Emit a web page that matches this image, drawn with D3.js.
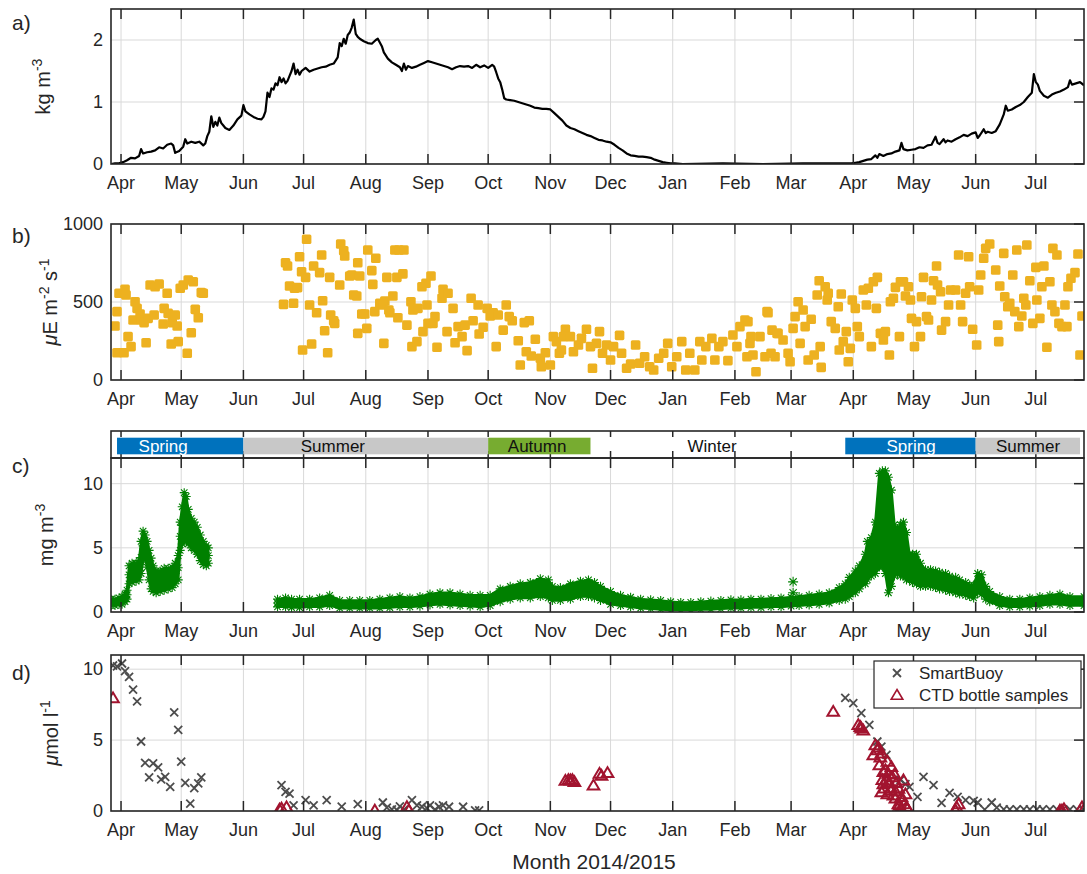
<!DOCTYPE html>
<html>
<head>
<meta charset="utf-8">
<script src="https://cdn.jsdelivr.net/npm/d3@7"></script>
<style>
  body { margin: 0; background: #fff; }
  text { font-family: "Liberation Sans", Arial, Helvetica, sans-serif; fill: #262626; }
</style>
</head>
<body>
<svg id="chart" width="1087" height="874"></svg>
<script>
// ---- data (x values are days since 1 Apr 2014) ----

// a) biomass, kg m-3
const biomassDay = [
  -5,-3,-1,1,3,5,7,9,10,11,
  13,15,17,19,21,23,25,26,27,29,
  31,32,33,35,37,39,41,42,43,44,
  45,46,47,48,49,50,51,52,54,56,
  58,60,61,62,64,66,68,70,71,72,
  73,74,75,76,77,78,79,80,81,82,
  83,84,85,86,87,88,89,90,92,94,
  96,98,100,102,104,106,108,109,110,111,
  112,113,114,115,116,117,118,119,120,121,
  123,125,127,128,130,131,133,135,137,139,
  140,141,142,143,145,147,149,151,153,155,
  157,159,161,163,165,167,169,171,173,175,
  177,179,181,183,185,186,187,188,189,190,
  191,192,194,196,198,200,202,204,206,208,
  210,212,214,216,218,220,222,224,226,228,
  230,232,234,236,238,240,242,244,246,248,
  250,252,254,256,258,260,262,264,266,268,
  270,272,274,276,280,300,320,340,364,366,
  368,370,372,374,376,377,378,380,382,384,
  386,388,389,390,392,394,396,398,400,402,
  404,406,407,408,410,411,412,414,416,418,
  420,422,424,426,427,428,430,431,432,434,
  436,438,440,441,442,444,446,448,450,452,
  454,455,456,457,458,460,462,464,466,468,
  470,472,473,474,476,478,480
];
const biomassValue = [
  0.00,0.01,0.01,0.03,0.06,0.10,0.09,0.13,0.24,0.17,
  0.19,0.20,0.22,0.27,0.25,0.31,0.33,0.30,0.18,0.21,
  0.28,0.40,0.33,0.36,0.34,0.36,0.30,0.33,0.45,0.52,
  0.77,0.60,0.68,0.62,0.75,0.66,0.62,0.58,0.55,0.62,
  0.72,0.78,0.95,0.85,0.80,0.76,0.73,0.72,0.76,0.85,
  1.15,1.08,1.22,1.20,1.30,1.27,1.40,1.32,1.38,1.30,
  1.34,1.42,1.50,1.62,1.45,1.52,1.44,1.50,1.55,1.49,
  1.52,1.54,1.56,1.57,1.60,1.62,1.72,1.95,1.90,2.02,
  1.94,2.08,2.12,2.20,2.33,2.10,2.05,2.02,2.00,1.98,
  1.95,1.94,2.00,2.02,1.90,1.80,1.70,1.64,1.60,1.56,
  1.50,1.62,1.52,1.58,1.55,1.57,1.60,1.63,1.66,1.64,
  1.62,1.60,1.58,1.56,1.53,1.56,1.58,1.57,1.58,1.55,
  1.60,1.56,1.59,1.55,1.60,1.57,1.48,1.38,1.32,1.20,
  1.06,1.04,1.03,1.02,1.00,0.98,0.96,0.94,0.91,0.90,
  0.89,0.89,0.88,0.82,0.76,0.70,0.62,0.58,0.56,0.53,
  0.50,0.47,0.45,0.42,0.39,0.38,0.36,0.35,0.31,0.26,
  0.22,0.17,0.14,0.13,0.12,0.12,0.11,0.10,0.07,0.05,
  0.03,0.02,0.01,0.01,0.00,0.01,0.00,0.01,0.01,0.02,
  0.03,0.05,0.07,0.08,0.14,0.10,0.16,0.13,0.16,0.17,
  0.20,0.22,0.34,0.24,0.22,0.23,0.24,0.27,0.26,0.30,
  0.31,0.44,0.34,0.32,0.40,0.35,0.38,0.36,0.40,0.43,
  0.47,0.45,0.49,0.51,0.42,0.46,0.56,0.50,0.52,0.50,
  0.53,0.64,0.80,0.94,0.86,0.88,0.92,0.95,1.00,1.08,
  1.15,1.45,1.32,1.28,1.18,1.10,1.07,1.12,1.15,1.17,
  1.20,1.24,1.35,1.28,1.30,1.32,1.27
];

// b) daily PAR, uE m-2 s-1
const parDay = [
  -3,-2,1.5,-1,-2,2,2.5,3.5,5,6,
  7,8,9.5,10,11.5,12.5,13.5,16.5,14.5,17,
  19,21,21.5,23,23.5,25,25.5,27,28,28.5,
  29.5,31,33,33.5,35,36,37,38.5,40,41,
  81,82,83,84,86,86.5,88,89,90,90.5,
  92.5,92,94,95,96,97.5,99,100,100.5,101.5,
  103,104,104.5,106,106.5,109,109.5,111,111.5,114,
  115,116,117.5,118,119,118,120,121.5,122.5,123,
  125,125.5,127,126.5,129,131,131.5,132.5,134,135.5,
  136.5,137.5,138.5,141,140.5,130.5,133.5,138,142.5,144.5,
  145.5,148,145,147.5,150,152,154.5,150.5,153,152.5,
  156.5,157.5,155.5,160.5,160,163,162.5,165.5,166.5,168,
  170,172.5,171.5,174.5,175.5,178,178.5,180.5,182.5,184,
  185.5,187,188,190.5,192,193.5,195,198,199,201,
  203.5,202,204.5,206.5,209,211.5,209.5,214,215.5,217,
  219.5,221.5,220.5,218.5,224,225.5,228,229.5,232,234,
  235,237,238.5,240,242,244,245.5,248.5,249.5,252,
  254,256.5,258.5,261,263.5,265.5,268,270.5,272.5,274.5,
  277,279.5,281.5,283.5,286,288.5,289.5,291.5,294.5,296,
  298,300,302.5,305,307,308.5,311,312,314,316.5,
  318.5,321,322,324.5,326,327.5,312.5,315,313.5,322.5,
  324,327,330,332.5,333.5,335,336,337.5,338.5,340,
  341,342.5,344,345.5,347,348,348.5,349,351,352,
  352.5,354,356,357.5,358,359,360,361.5,362.5,363.5,
  364.5,366,367,368,370,371.5,372.5,374,375,376.5,
  377,378.5,380,381,383,383.5,385,386,388,388.5,
  390,391,392.5,393.5,394,395.5,396.5,398.5,399,400,
  401.5,402.5,404,405,406.5,407,408.5,409,411,412.5,
  413.5,416,417.5,418.5,419.5,421,422.5,423,424.5,426.5,
  427.5,428.5,430,431,433,436,437,437.5,438,440,
  440.5,442,443,444.5,445.5,446.5,447.5,449,450,451,
  451.5,453,454.5,456,456.5,458,459,460,461.5,463,
  464,464.5,465.5,466.5,467.5,469,470.5,471.5,472,473.5,
  475.5,477,479,478
];
const parValue = [
  346,175,175,556,438,581,545,278,214,385,
  502,459,423,385,368,239,395,417,609,598,
  615,359,459,556,427,231,368,417,346,246,
  588,609,171,641,303,630,453,399,560,556,
  485,752,731,603,492,588,592,790,694,192,
  902,658,481,231,731,431,688,801,508,316,
  175,658,417,380,363,609,872,829,795,667,
  673,545,538,752,667,299,423,423,331,833,
  701,613,780,438,492,235,506,658,431,538,
  833,658,833,833,680,481,449,399,352,502,
  449,459,214,246,598,620,667,310,363,481,
  406,210,363,581,524,556,310,459,239,342,
  278,188,352,524,380,481,295,338,459,410,
  431,214,417,320,481,406,380,252,96,368,
  380,181,154,261,139,175,85,96,278,246,
  192,325,278,171,278,181,224,267,325,214,
  75,235,310,171,224,128,214,286,171,75,
  103,224,107,149,85,64,139,171,235,85,
  149,246,64,171,64,246,128,214,267,128,
  214,246,124,288,214,342,385,149,278,53,
  278,149,438,320,149,299,374,160,235,431,
  171,299,256,171,117,331,406,502,235,449,
  342,128,389,160,545,636,214,81,598,513,
  556,374,331,470,192,551,246,310,117,203,
  513,459,342,278,577,481,588,214,630,459,
  658,299,256,310,160,502,524,594,278,630,
  630,538,598,513,395,214,374,278,534,658,
  406,385,513,636,731,609,566,320,374,481,
  577,577,801,481,374,556,790,598,325,224,
  577,673,780,844,872,705,352,246,603,812,
  534,470,492,673,438,833,342,410,524,481,
  865,636,363,722,513,395,598,731,210,630,
  481,844,438,801,363,342,481,342,598,652,
  688,808,410,160
];

// c) chlorophyll, mg m-3 (spread of the high-frequency record: low / high)
const chlDay = [
  -5,-3,-1,0.5,2,3,4,5.5,7.5,9,
  10,11,12,13,14,15,16,17.5,19.5,21.5,
  23.5,25.5,27,28.5,29.5,30.5,31.5,32.5,33.5,35,
  36.5,38,39.5,41,42.5,43.5,
  78,82,85,89,94,99,104,109,114,119,
  124,129,134,139,144,149,154,159,164,169,
  174,179,184,189,194,199,204,209,213,215,
  219,224,229,233,236,239,244,249,254,259,
  264,269,274,279,284,289,294,299,304,309,
  314,319,324,329,334,338,343,348,353,358,
  361,363,366,368,371,372,374,376,378,379.5,
  381,382.5,384,385.5,387,388.5,390,391.5,393,394.5,
  396.5,398.5,401,403.5,406,408,411,413,416,418,
  421,423,425,427,429,431,433,438,443,448,
  453,458,463,468,473,480
];
const chlLow = [
  0.5,0.5,0.6,0.6,0.8,1.0,2.2,2.3,2.4,2.5,
  3.0,4.0,4.3,3.5,2.5,1.8,1.6,1.5,1.6,1.7,
  1.8,1.9,2.2,2.5,4.8,5.3,5.5,5.5,5.3,5.0,
  4.8,4.5,4.0,3.7,3.6,3.8,
  0.4,0.4,0.35,0.35,0.4,0.4,0.5,0.3,0.3,0.3,
  0.3,0.3,0.35,0.4,0.4,0.45,0.55,0.6,0.55,0.5,
  0.45,0.4,0.5,0.8,1.0,1.1,1.1,1.2,1.1,0.9,
  0.9,1.0,1.2,1.2,1.1,0.9,0.6,0.5,0.4,0.3,
  0.25,0.2,0.15,0.15,0.15,0.2,0.2,0.25,0.3,0.3,
  0.35,0.35,0.4,0.4,0.45,0.5,0.55,0.6,0.7,0.9,
  1.0,1.2,1.5,1.8,2.2,2.5,2.8,3.0,3.5,3.5,
  3.0,1.5,2.0,2.8,3.0,2.8,2.8,2.5,2.5,2.3,
  2.2,2.0,2.0,2.0,1.9,1.8,1.7,1.6,1.5,1.4,
  1.3,1.2,1.1,1.5,1.4,1.0,0.8,0.5,0.4,0.4,
  0.45,0.5,0.6,0.6,0.5,0.5
];
const chlHigh = [
  1.0,1.0,1.1,1.2,1.4,1.7,3.6,3.8,3.8,4.0,
  5.5,6.3,6.0,5.5,4.8,4.2,3.6,3.2,3.2,3.4,
  3.4,3.5,3.8,4.4,7.0,8.2,9.3,9.0,8.0,7.3,
  7.0,6.6,6.0,5.5,5.2,5.0,
  1.0,1.1,1.0,1.0,1.0,1.1,1.3,0.9,0.9,0.9,
  0.9,1.0,1.1,1.2,1.1,1.2,1.4,1.5,1.5,1.4,
  1.3,1.3,1.3,1.8,2.0,2.2,2.3,2.6,2.5,2.0,
  1.9,2.2,2.4,2.5,2.3,2.0,1.6,1.3,1.15,1.0,
  0.95,0.9,0.8,0.75,0.75,0.8,0.85,0.9,0.95,0.95,
  1.0,1.0,1.05,1.1,1.15,1.2,1.3,1.4,1.5,1.9,
  2.2,2.7,3.2,3.6,4.5,5.5,5.8,7.0,10.8,11.0,
  11.0,10.5,9.5,6.8,6.5,6.8,7.0,6.2,4.5,4.5,
  4.5,3.8,3.3,3.3,3.2,3.1,3.0,2.8,2.7,2.5,
  2.3,2.1,2.1,3.0,2.9,2.0,1.6,1.2,1.0,1.0,
  1.1,1.2,1.3,1.4,1.2,1.2
];
const chlSpikeDay = [335, 335];
const chlSpikeValue = [2.35, 1.5];

// seasons shown above panel c
const seasonNames = ["Spring", "Summer", "Autumn", "Winter", "Spring", "Summer"];
const seasonStart = [-2, 61, 183, 234, 361, 426];
const seasonEnd = [61, 183, 234, 361, 426, 478];
const seasonLabelDay = [21, 105.6, 207.4, 294.6, 393.8, 452.1];

// d) nitrate, umol l-1
const buoyDay = [
  -4,-2,0.5,2,4,6,8,10,12,14,
  16,18.5,20,22,24.5,26.5,28.5,30,32,34.5,
  36.5,38.5,40,80,82,84,86,92,96,102.5,
  110,118,130.5,132.5,135,137.5,139,141,145,147.5,
  150,152.5,154,156.5,158.5,160.5,163.5,170.5,176.5,178.5,
  361,365,369,373,377,379,381.5,388.5,391,393,
  397,400,405,409,413,417,421,425,427,430.5,
  434,436.5,440,443,446.5,450,453,456.5,459.5,463,
  466.5,469.5,473,476.5,479.5
];
const buoyValue = [
  10.26,10.2,10.4,9.86,9.46,8.56,7.73,4.9,3.4,2.37,
  3.36,3.08,2.23,2.41,1.7,6.95,5.72,3.48,1.99,0.52,
  1.61,1.94,2.37,1.82,1.35,1.23,0.4,0.76,0.4,0.76,
  0.31,0.48,0.6,0.24,0.12,0.07,0.33,0.1,0.76,0.4,
  0.3,0.2,0.4,0.1,0.3,0.4,0.3,0.3,0.05,0.05,
  7.97,7.6,6.9,6.08,4.9,4.54,3.95,2.2,1.9,1.7,
  1.0,2.41,1.82,0.57,1.28,1.0,0.76,0.72,0.6,0.1,
  0.6,0.24,0.12,0.12,0.12,0.12,0.12,0.12,0.12,0.12,
  0.12,0.12,0.12,0.12,0.12
];
const ctdDay = [
  -4,79,80,82.5,126.5,142.5,143.5,221.5,223,224,
  225,226,235.5,238.5,239.5,242.5,355,367.5,368.5,369,
  370,376,375,377,379,378,380,384,381.5,382.5,
  380.5,379,383.5,385,386.5,387.5,390,389.5,388.5,392,
  391,387.5,386,382,384.5,416,416.5,417.5,468,469,
  470,479,479.7,
  377.5,378.5,379.5,380,381,382,383,384,385.5,386,
  388,389,390.5,391.5,389
];
const ctdValue = [
  7.97,0.12,0.2,0.28,0.05,0.3,0.05,2.15,2.2,2.18,
  2.2,2.06,1.82,2.65,2.5,2.7,7.02,6.08,5.95,5.84,
  5.7,4.66,3.95,4.3,4.07,3.24,2.77,3.12,2.18,2.65,
  1.6,1.35,1.47,1.11,2.0,1.59,2.18,0.76,0.17,0.17,
  1.2,0.5,0.9,3.5,2.4,0.05,0.28,0.5,0.05,0.05,
  0.15,0.28,0.05,
  4.5,3.8,2.2,1.9,2.9,1.2,2.0,1.6,2.6,1.4,
  0.4,1.0,0.5,0.3,0.05
];

// ---- layout ----
const svg = d3.select("#chart");
const X0 = 111, X1 = 1084;
const ORIGIN = Date.UTC(2014, 3, 1);
const dayToDate = d => new Date(ORIGIN + d * 864e5);

const x = d3.scaleUtc()
    .domain([dayToDate(-5), dayToDate(480)])
    .range([X0, X1]);
const months = d3.utcMonth.range(dayToDate(0), dayToDate(462));
const fmtMonth = d3.utcFormat("%b");

const AXIS = "#262626";
const GRID = "#d9d9d9";

const seasonFill = { Spring: "#0072BD", Summer: "#C8C8C8", Autumn: "#77AC30", Winter: "none" };
const seasonText = { Spring: "#ffffff", Summer: "#111", Autumn: "#111", Winter: "#111" };

// grid + tick labels + clip; returns y scale and a clipped group for the data
function setupPanel(id, top, bottom, max, ticks, letter, letterY, labelX, labelParts) {
    const y = d3.scaleLinear().domain([0, max]).range([bottom, top]);

    svg.append("clipPath").attr("id", "clip-" + id)
        .append("rect")
        .attr("x", X0).attr("y", top)
        .attr("width", X1 - X0).attr("height", bottom - top);

    const grid = svg.append("g");
    grid.selectAll("line.gx").data(months).enter().append("line")
        .attr("x1", d => x(d)).attr("x2", d => x(d))
        .attr("y1", top).attr("y2", bottom)
        .attr("stroke", GRID).attr("stroke-width", 1);
    grid.selectAll("line.gy").data(ticks).enter().append("line")
        .attr("x1", X0).attr("x2", X1)
        .attr("y1", d => y(d)).attr("y2", d => y(d))
        .attr("stroke", GRID).attr("stroke-width", 1);

    // y tick labels
    svg.append("g").selectAll("text").data(ticks).enter().append("text")
        .attr("x", X0 - 8).attr("y", d => y(d)).attr("dy", "0.35em")
        .attr("text-anchor", "end")
        .style("font-size", "18px")
        .text(d => d);

    // x tick labels
    svg.append("g").selectAll("text").data(months).enter().append("text")
        .attr("x", d => x(d)).attr("y", bottom + 25)
        .attr("text-anchor", "middle")
        .style("font-size", "18px")
        .text(d => fmtMonth(d));

    // panel letter
    svg.append("text").attr("x", 12).attr("y", letterY)
        .style("font-size", "21px").text(letter);

    // y label with superscripts
    const lab = svg.append("text")
        .attr("transform", `translate(${labelX},${(top + bottom) / 2}) rotate(-90)`)
        .attr("text-anchor", "middle")
        .style("font-size", "20px");
    let shift = 0;
    labelParts.forEach(p => {
        const s = lab.append("tspan").text(p.t);
        const want = p.sup ? -8 : 0;
        if (want !== shift) { s.attr("dy", want - shift); shift = want; }
        if (p.sup) s.style("font-size", "14px");
        if (p.it) s.style("font-style", "italic");
    });

    const plot = svg.append("g").attr("clip-path", `url(#clip-${id})`);
    return { y, plot, top, bottom, ticks };
}

// box + inward ticks on top, bottom and right
function drawBox(p) {
    const g = svg.append("g");
    const tl = 10;
    g.selectAll("line.tb").data(months).enter().append("line")
        .attr("x1", d => x(d)).attr("x2", d => x(d))
        .attr("y1", p.bottom).attr("y2", p.bottom - tl)
        .attr("stroke", AXIS).attr("stroke-width", 1.5);
    g.selectAll("line.tt").data(months).enter().append("line")
        .attr("x1", d => x(d)).attr("x2", d => x(d))
        .attr("y1", p.top).attr("y2", p.top + tl)
        .attr("stroke", AXIS).attr("stroke-width", 1.5);
    g.selectAll("line.tr").data(p.ticks).enter().append("line")
        .attr("x1", X1).attr("x2", X1 - tl)
        .attr("y1", d => p.y(d)).attr("y2", d => p.y(d))
        .attr("stroke", AXIS).attr("stroke-width", 1.5);
    g.append("rect")
        .attr("x", X0).attr("y", p.top)
        .attr("width", X1 - X0).attr("height", p.bottom - p.top)
        .attr("fill", "none").attr("stroke", AXIS).attr("stroke-width", 1.6);
}

// ---- a) ----
const pa = setupPanel("a", 9, 164, 2.5, [0, 1, 2], "a)", 30, 50,
    [{ t: "kg m" }, { t: "-3", sup: true }]);
const biomass = d3.zip(biomassDay, biomassValue);
pa.plot.append("path")
    .datum(biomass)
    .attr("fill", "none")
    .attr("stroke", "#000")
    .attr("stroke-width", 2.2)
    .attr("stroke-linejoin", "round")
    .attr("d", d3.line().x(d => x(dayToDate(d[0]))).y(d => pa.y(d[1])));
drawBox(pa);

// ---- b) ----
const pb = setupPanel("b", 224, 380, 1000, [0, 500, 1000], "b)", 243, 57,
    [{ t: "\u03bc", it: true }, { t: "E m" }, { t: "-2", sup: true }, { t: " s" }, { t: "-1", sup: true }]);
const par = d3.zip(parDay, parValue);
pb.plot.selectAll("rect").data(par).enter().append("rect")
    .attr("x", d => x(dayToDate(d[0])) - 4.8)
    .attr("y", d => pb.y(d[1]) - 4.8)
    .attr("width", 9.6).attr("height", 9.6)
    .attr("rx", 1.6)
    .attr("fill", "#EDB120");
drawBox(pb);

// ---- c) ----
const pc = setupPanel("c", 458, 612, 12, [0, 5, 10], "c)", 473, 53,
    [{ t: "mg m" }, { t: "-3", sup: true }]);
const chl = chlDay.map((d, i) => ({ day: d, lo: chlLow[i], hi: chlHigh[i] }));
// split the record where there is a gap in the data
const chlSegments = [];
chl.forEach((d, i) => {
    if (i === 0 || d.day - chl[i - 1].day > 15) chlSegments.push([]);
    chlSegments[chlSegments.length - 1].push(d);
});
const GREEN = "#008000";
const chlArea = d3.area()
    .x(d => x(dayToDate(d.day)))
    .y0(d => pc.y(d.lo))
    .y1(d => pc.y(d.hi));
pc.plot.selectAll("path.band").data(chlSegments).enter().append("path")
    .attr("d", chlArea)
    .attr("fill", GREEN)
    .attr("stroke", GREEN)
    .attr("stroke-width", 2.5)
    .attr("stroke-linejoin", "round");

function star(cx, cy, r) {
    const k = r * 0.72;
    return `M${cx - r},${cy}h${2 * r}M${cx},${cy - r}v${2 * r}` +
        `M${cx - k},${cy - k}l${2 * k},${2 * k}M${cx - k},${cy + k}l${2 * k},${-2 * k}`;
}
let starPath = "";
chl.forEach(d => {
    const cx = x(dayToDate(d.day));
    starPath += star(cx, pc.y(d.lo), 4.5) + star(cx, pc.y(d.hi), 4.5) +
        star(cx, pc.y((d.lo + d.hi) / 2), 4.5);
});
chlSpikeDay.forEach((d, i) => {
    starPath += star(x(dayToDate(d)), pc.y(chlSpikeValue[i]), 5);
});
pc.plot.append("path").attr("d", starPath)
    .attr("fill", "none").attr("stroke", GREEN).attr("stroke-width", 1.1);
drawBox(pc);

// season band
const bandTop = 431, bandBottom = 458;
const band = svg.append("g");
band.selectAll("line.bt").data(months).enter().append("line")
    .attr("x1", d => x(d)).attr("x2", d => x(d))
    .attr("y1", bandTop).attr("y2", bandTop + 6)
    .attr("stroke", AXIS).attr("stroke-width", 1.5);
band.selectAll("line.bb").data(months).enter().append("line")
    .attr("x1", d => x(d)).attr("x2", d => x(d))
    .attr("y1", bandBottom).attr("y2", bandBottom - 7)
    .attr("stroke", AXIS).attr("stroke-width", 1.5);
band.selectAll("rect.season").data(seasonNames).enter().append("rect")
    .attr("x", (d, i) => x(dayToDate(seasonStart[i])))
    .attr("width", (d, i) => x(dayToDate(seasonEnd[i])) - x(dayToDate(seasonStart[i])))
    .attr("y", 437.7).attr("height", 16.6)
    .attr("fill", d => seasonFill[d]);
band.selectAll("text.season").data(seasonNames).enter().append("text")
    .attr("x", (d, i) => x(dayToDate(seasonLabelDay[i])))
    .attr("y", 452)
    .attr("text-anchor", "middle")
    .style("font-size", "17px")
    .style("fill", d => seasonText[d])
    .text(d => d);
band.append("rect")
    .attr("x", X0).attr("y", bandTop)
    .attr("width", X1 - X0).attr("height", bandBottom - bandTop)
    .attr("fill", "none").attr("stroke", AXIS).attr("stroke-width", 1.6);

// ---- d) ----
const pd = setupPanel("d", 655, 811, 11, [0, 5, 10], "d)", 680, 58,
    [{ t: "\u03bc", it: true }, { t: "mol l" }, { t: "-1", sup: true }]);
const BUOY = "#4d4d4d", CTD = "#A2142F";
const crossPath = "M-4,-4L4,4M-4,4L4,-4";
const triPath = "M0,-5.5L5.8,4.3L-5.8,4.3Z";
pd.plot.selectAll("path.buoy").data(d3.zip(buoyDay, buoyValue)).enter().append("path")
    .attr("transform", d => `translate(${x(dayToDate(d[0]))},${pd.y(d[1])})`)
    .attr("d", crossPath)
    .attr("stroke", BUOY).attr("stroke-width", 1.8).attr("fill", "none");
pd.plot.selectAll("path.ctd").data(d3.zip(ctdDay, ctdValue)).enter().append("path")
    .attr("transform", d => `translate(${x(dayToDate(d[0]))},${pd.y(d[1])})`)
    .attr("d", triPath)
    .attr("stroke", CTD).attr("stroke-width", 2).attr("fill", "none");
drawBox(pd);

// legend
const leg = svg.append("g");
leg.append("rect")
    .attr("x", 874).attr("y", 661).attr("width", 207).attr("height", 47)
    .attr("fill", "#fff").attr("stroke", AXIS).attr("stroke-width", 1.2);
leg.append("path").attr("transform", "translate(897,673)").attr("d", crossPath)
    .attr("stroke", BUOY).attr("stroke-width", 1.8).attr("fill", "none");
leg.append("path").attr("transform", "translate(897,695)").attr("d", triPath)
    .attr("stroke", CTD).attr("stroke-width", 1.6).attr("fill", "none");
leg.append("text").attr("x", 919).attr("y", 679).style("font-size", "17px").text("SmartBuoy");
leg.append("text").attr("x", 919).attr("y", 701).style("font-size", "17px").text("CTD bottle samples");

// x label
svg.append("text")
    .attr("x", 594).attr("y", 869)
    .attr("text-anchor", "middle")
    .style("font-size", "21px")
    .text("Month 2014/2015");
</script>
</body>
</html>
